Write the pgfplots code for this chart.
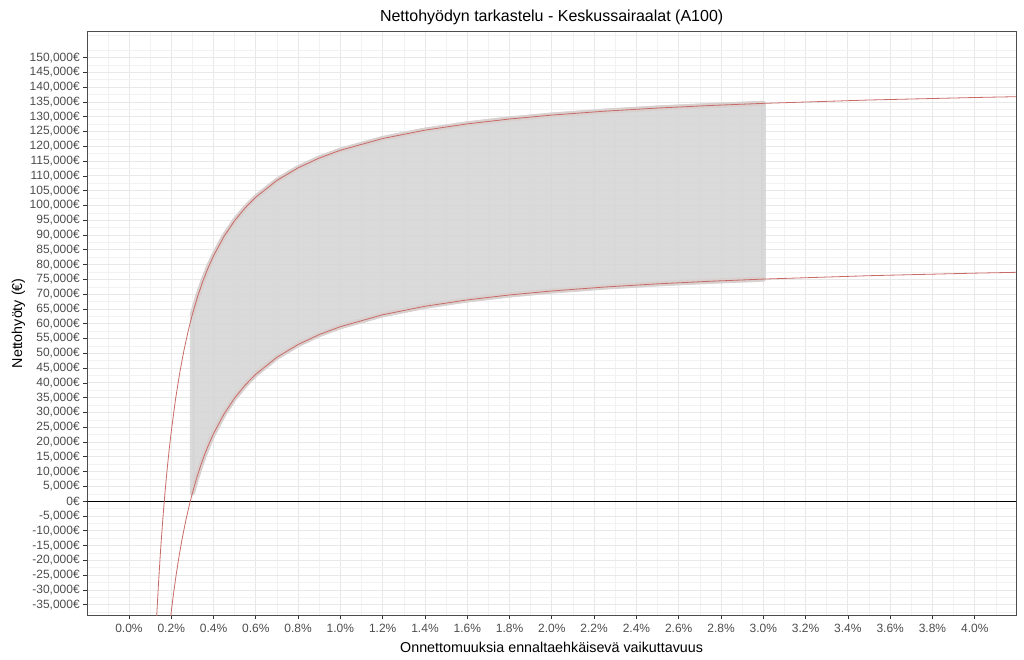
\documentclass[border=0pt]{standalone}
\usepackage{fontspec}
\setmainfont{Liberation Sans}
\usepackage{pgfplots}
\pgfplotsset{compat=1.18}
\definecolor{tickgrey}{HTML}{4D4D4D}
\definecolor{halo}{HTML}{D9D0D0}
\definecolor{curve}{HTML}{C86A66}
\definecolor{frame}{HTML}{4D4D4D}
\begin{document}
\begin{tikzpicture}[x=1pt,y=1pt]
\useasboundingbox (0,0) rectangle (1024,659);
\begin{axis}[
  at={(87.3pt,44pt)}, anchor=south west,
  scale only axis, width=928.7pt, height=583.3pt,
  xmin=-0.197, xmax=4.195, ymin=-38464, ymax=158760,
  scaled ticks=false,
  xtick={0,0.2,...,4.01},
  minor xtick={-0.1,0.1,...,4.11},
  ytick={-35000,-30000,...,150000},
  minor ytick={-37500,-32500,...,157500},
  grid=both,
  major grid style={color=black!9, line width=0.9pt},
  minor grid style={color=black!5, line width=0.6pt},
  tick align=outside, xtick pos=left, ytick pos=left,
  major tick length=4pt, minor tick length=0pt,
  tick style={color=black!80, line width=0.8pt},
  axis line style={color=frame, line width=0.9pt},
  /pgf/number format/assume math mode=true,
  ticklabel style={font=\fontsize{12}{12}\selectfont, color=tickgrey},
  xticklabel={\pgfmathprintnumber[fixed, fixed zerofill, precision=1]{\tick}\%},
  yticklabel={\pgfmathprintnumber[fixed, precision=0, 1000 sep={,}]{\tick}€},
  xticklabel style={yshift=-1.5pt},
  every axis title shift=0pt,
  title={Nettohyödyn tarkastelu - Keskussairaalat (A100)},
  title style={font=\fontsize{16}{16}\selectfont, at={(0.5,1.01663)}, anchor=base},
  xlabel={Onnettomuuksia ennaltaehkäisevä vaikuttavuus},
  xlabel style={font=\fontsize{14.3}{14.3}\selectfont, at={(0.5,-0.06395)}, anchor=base},
  ylabel={Nettohyöty (€)},
  ylabel style={font=\fontsize{14.3}{14.3}\selectfont, at={(-0.0703,0.5)}, anchor=base},
]
% ribbon between curves, 0.3% .. 3.0%
\addplot[fill=black!16, draw=black!16, fill opacity=0.9, draw opacity=0.9, line width=5pt, line join=round] coordinates {
 (0.3,63192) (0.325,69289) (0.35,74515) (0.375,79044) (0.4,83007) (0.45,89613) (0.5,94897)
 (0.55,99220) (0.6,102823) (0.7,108485) (0.8,112731) (0.9,116034) (1.0,118676) (1.2,122639)
 (1.4,125470) (1.6,127593) (1.8,129244) (2.0,130565) (2.25,131887) (2.5,132943) (2.75,133808) (3.0,134529)
 (3.0,75112) (2.75,74381) (2.5,73504) (2.25,72433) (2.0,71093) (1.8,69753) (1.6,68079) (1.4,65926)
 (1.2,63055) (1.0,59036) (0.9,56357) (0.8,53007) (0.7,48701) (0.6,42960) (0.55,39306) (0.5,34922)
 (0.45,29563) (0.4,22865) (0.38,19692) (0.36,16167) (0.34,12226) (0.32,7794) (0.3,2770)
} -- cycle;
% halos
\addplot[halo, line width=5pt, line cap=round] coordinates {
 (0.3,63192) (0.325,69289) (0.35,74515) (0.375,79044) (0.4,83007) (0.45,89613) (0.5,94897)
 (0.55,99220) (0.6,102823) (0.7,108485) (0.8,112731) (0.9,116034) (1.0,118676) (1.2,122639)
 (1.4,125470) (1.6,127593) (1.8,129244) (2.0,130565) (2.25,131887) (2.5,132943) (2.75,133808) (3.0,134529)
};
\addplot[halo, line width=5pt, line cap=round] coordinates {
 (0.3,2770) (0.32,7794) (0.34,12226) (0.36,16167) (0.38,19692) (0.4,22865) (0.45,29563) (0.5,34922)
 (0.55,39306) (0.6,42960) (0.7,48701) (0.8,53007) (0.9,56357) (1.0,59036) (1.2,63055) (1.4,65926)
 (1.6,68079) (1.8,69753) (2.0,71093) (2.25,72433) (2.5,73504) (2.75,74381) (3.0,75112)
};
% zero line
\addplot[black, line width=1pt] coordinates {(-0.197,0) (4.195,0)};
% upper curve
\addplot[curve, line width=0.8pt] coordinates {
 (0.125,-47777) (0.13,-40460) (0.14,-27395) (0.15,-16072) (0.16,-6164) (0.17,2579) (0.18,10349)
 (0.19,17302) (0.2,23560) (0.22,34369) (0.24,43376) (0.26,50997) (0.28,57530) (0.3,63192)
 (0.325,69289) (0.35,74515) (0.375,79044) (0.4,83007) (0.45,89613) (0.5,94897) (0.55,99220)
 (0.6,102823) (0.7,108485) (0.8,112731) (0.9,116034) (1.0,118676) (1.2,122639) (1.4,125470)
 (1.6,127593) (1.8,129244) (2.0,130565) (2.25,131887) (2.5,132943) (2.75,133808) (3.0,134529)
 (3.5,135661) (4.0,136510) (4.2,136793)
};
% lower curve
\addplot[curve, line width=0.8pt] coordinates {
 (0.19,-43766) (0.2,-37420) (0.21,-31679) (0.22,-26459) (0.23,-21693) (0.24,-17325) (0.25,-13306)
 (0.26,-9596) (0.27,-6161) (0.28,-2971) (0.29,-2) (0.3,2770) (0.32,7794) (0.34,12226) (0.36,16167)
 (0.38,19692) (0.4,22865) (0.45,29563) (0.5,34922) (0.55,39306) (0.6,42960) (0.7,48701)
 (0.8,53007) (0.9,56357) (1.0,59036) (1.2,63055) (1.4,65926) (1.6,68079) (1.8,69753) (2.0,71093)
 (2.25,72433) (2.5,73504) (2.75,74381) (3.0,75112) (3.5,76260) (4.0,77121) (4.2,77409)
};
\end{axis}
\end{tikzpicture}
\end{document}
